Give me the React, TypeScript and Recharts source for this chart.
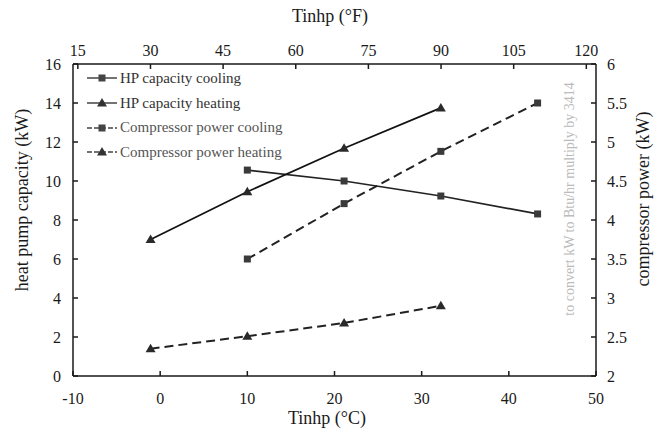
import React from "react";
import { LineChart, Line, XAxis, YAxis } from "recharts";

// inlet temperature in °C (measured at 30, 50, 70, 90, 110 °F)
const tempC = [-1.1, 10, 21.1, 32.2, 43.3];
const hpCooling = [null, 10.56, 10.0, 9.23, 8.31];
const hpHeating = [7.0, 9.45, 11.68, 13.75, null];
const compCooling = [null, 3.5, 4.21, 4.88, 5.5];
const compHeating = [2.35, 2.51, 2.68, 2.9, null];

const cTicks = [-10, 0, 10, 20, 30, 40, 50];
const fTicks = [15, 30, 45, 60, 75, 90, 105, 120];
const capTicks = [0, 2, 4, 6, 8, 10, 12, 14, 16];
const powTicks = [2, 2.5, 3, 3.5, 4, 4.5, 5, 5.5, 6];

const data = tempC.map((t, i) => ({
	t,
	f: (t * 9) / 5 + 32,
	hpCooling: hpCooling[i],
	hpHeating: hpHeating[i],
	compCooling: compCooling[i],
	compHeating: compHeating[i],
}));

const FONT = '"Liberation Serif", "Times New Roman", serif';
const INK = "#1a1a1a";
const tickStyle = { fill: INK, fontSize: 16, fontFamily: FONT };

const Square = (props: any) => {
	const { cx, cy, index } = props;
	if (cx == null || cy == null || props.value == null) return <g key={index} />;
	return <rect key={index} x={cx - 3.5} y={cy - 3.5} width={7} height={7} fill="#3a3a3a" />;
};

const Triangle = (props: any) => {
	const { cx, cy, index } = props;
	if (cx == null || cy == null || props.value == null) return <g key={index} />;
	return (
		<polygon
			key={index}
			points={`${cx},${cy - 5} ${cx - 5},${cy + 3.5} ${cx + 5},${cy + 3.5}`}
			fill="#2a2a2a"
		/>
	);
};

const legendItems = [
	{ name: "HP capacity cooling", marker: "square", dashed: false, color: "#333" },
	{ name: "HP capacity heating", marker: "triangle", dashed: false, color: "#333" },
	{ name: "Compressor power cooling", marker: "square", dashed: true, color: "#555" },
	{ name: "Compressor power heating", marker: "triangle", dashed: true, color: "#555" },
];

function LegendBox() {
	return (
		<div style={{ position: "absolute", left: 86, top: 66, fontFamily: FONT, fontSize: 15 }}>
			{legendItems.map((it) => (
				<div key={it.name} style={{ display: "flex", alignItems: "center", height: 24.7 }}>
					<svg width={32} height={12} style={{ marginRight: 2 }}>
						<line
							x1={1}
							y1={6}
							x2={31}
							y2={6}
							stroke="#444"
							strokeWidth={1.5}
							strokeDasharray={it.dashed ? "5 2" : undefined}
						/>
						{it.marker === "square" ? (
							<rect x={12.5} y={2.5} width={7} height={7} fill="#444" />
						) : (
							<polygon points="16,1 11,9.5 21,9.5" fill="#333" />
						)}
					</svg>
					<span style={{ color: it.color }}>{it.name}</span>
				</div>
			))}
		</div>
	);
}

export default function App() {
	return (
		<div
			style={{
				position: "absolute",
				left: 0,
				top: 0,
				width: 663,
				height: 438,
				background: "#fff",
				fontFamily: FONT,
			}}
		>
			<LineChart
				width={663}
				height={438}
				data={data}
				margin={{ top: 0, right: 0, bottom: 0, left: 0 }}
			>
				<XAxis
					xAxisId="c"
					dataKey="t"
					type="number"
					domain={[-10, 50]}
					ticks={cTicks}
					allowDataOverflow
					height={62}
					stroke={INK}
					strokeWidth={1.5}
					tickSize={-5}
					tickMargin={22}
					tick={tickStyle}
				/>
				<XAxis
					xAxisId="f"
					dataKey="f"
					type="number"
					orientation="top"
					domain={[14, 122]}
					ticks={fTicks}
					allowDataOverflow
					height={64}
					stroke={INK}
					strokeWidth={1.5}
					tickSize={-5}
					tickMargin={13}
					tick={tickStyle}
				/>
				<YAxis
					yAxisId="cap"
					type="number"
					domain={[0, 16]}
					ticks={capTicks}
					allowDataOverflow
					width={73}
					stroke={INK}
					strokeWidth={1.5}
					tickSize={-5}
					tickMargin={17}
					tick={tickStyle}
				/>
				<YAxis
					yAxisId="pow"
					orientation="right"
					type="number"
					domain={[2, 6]}
					ticks={powTicks}
					allowDataOverflow
					width={67}
					stroke={INK}
					strokeWidth={1.5}
					tickSize={-5}
					tickMargin={16}
					tick={tickStyle}
				/>
				<Line
					xAxisId="c"
					yAxisId="cap"
					dataKey="hpCooling"
					stroke="#222"
					strokeWidth={1.7}
					dot={Square}
					activeDot={false}
					isAnimationActive={false}
				/>
				<Line
					xAxisId="c"
					yAxisId="cap"
					dataKey="hpHeating"
					stroke="#111"
					strokeWidth={1.7}
					dot={Triangle}
					activeDot={false}
					isAnimationActive={false}
				/>
				<Line
					xAxisId="c"
					yAxisId="pow"
					dataKey="compCooling"
					stroke="#222"
					strokeWidth={2}
					strokeDasharray="9 5"
					dot={Square}
					activeDot={false}
					isAnimationActive={false}
				/>
				<Line
					xAxisId="c"
					yAxisId="pow"
					dataKey="compHeating"
					stroke="#222"
					strokeWidth={2}
					strokeDasharray="9 5"
					dot={Triangle}
					activeDot={false}
					isAnimationActive={false}
				/>
			</LineChart>

			<LegendBox />

			{/* axis titles and side note */}
			<div style={{ position: "absolute", left: 330, top: 16, transform: "translate(-50%, -50%)", fontSize: 18, color: INK, whiteSpace: "nowrap" }}>
				Tinhp (°F)
			</div>
			<div style={{ position: "absolute", left: 327, top: 418, transform: "translate(-50%, -50%)", fontSize: 18, color: INK, whiteSpace: "nowrap" }}>
				Tinhp (°C)
			</div>
			<div style={{ position: "absolute", left: 22, top: 200, transform: "translate(-50%, -50%) rotate(-90deg)", fontSize: 18, color: INK, whiteSpace: "nowrap" }}>
				heat pump capacity (kW)
			</div>
			<div style={{ position: "absolute", left: 643, top: 199, transform: "translate(-50%, -50%) rotate(-90deg)", fontSize: 18, color: INK, whiteSpace: "nowrap" }}>
				compressor power (kW)
			</div>
			<div style={{ position: "absolute", left: 570, top: 199, transform: "translate(-50%, -50%) rotate(-90deg)", fontSize: 14, color: "#bbb", whiteSpace: "nowrap" }}>
				to convert kW to Btu/hr multiply by 3414
			</div>
		</div>
	);
}
